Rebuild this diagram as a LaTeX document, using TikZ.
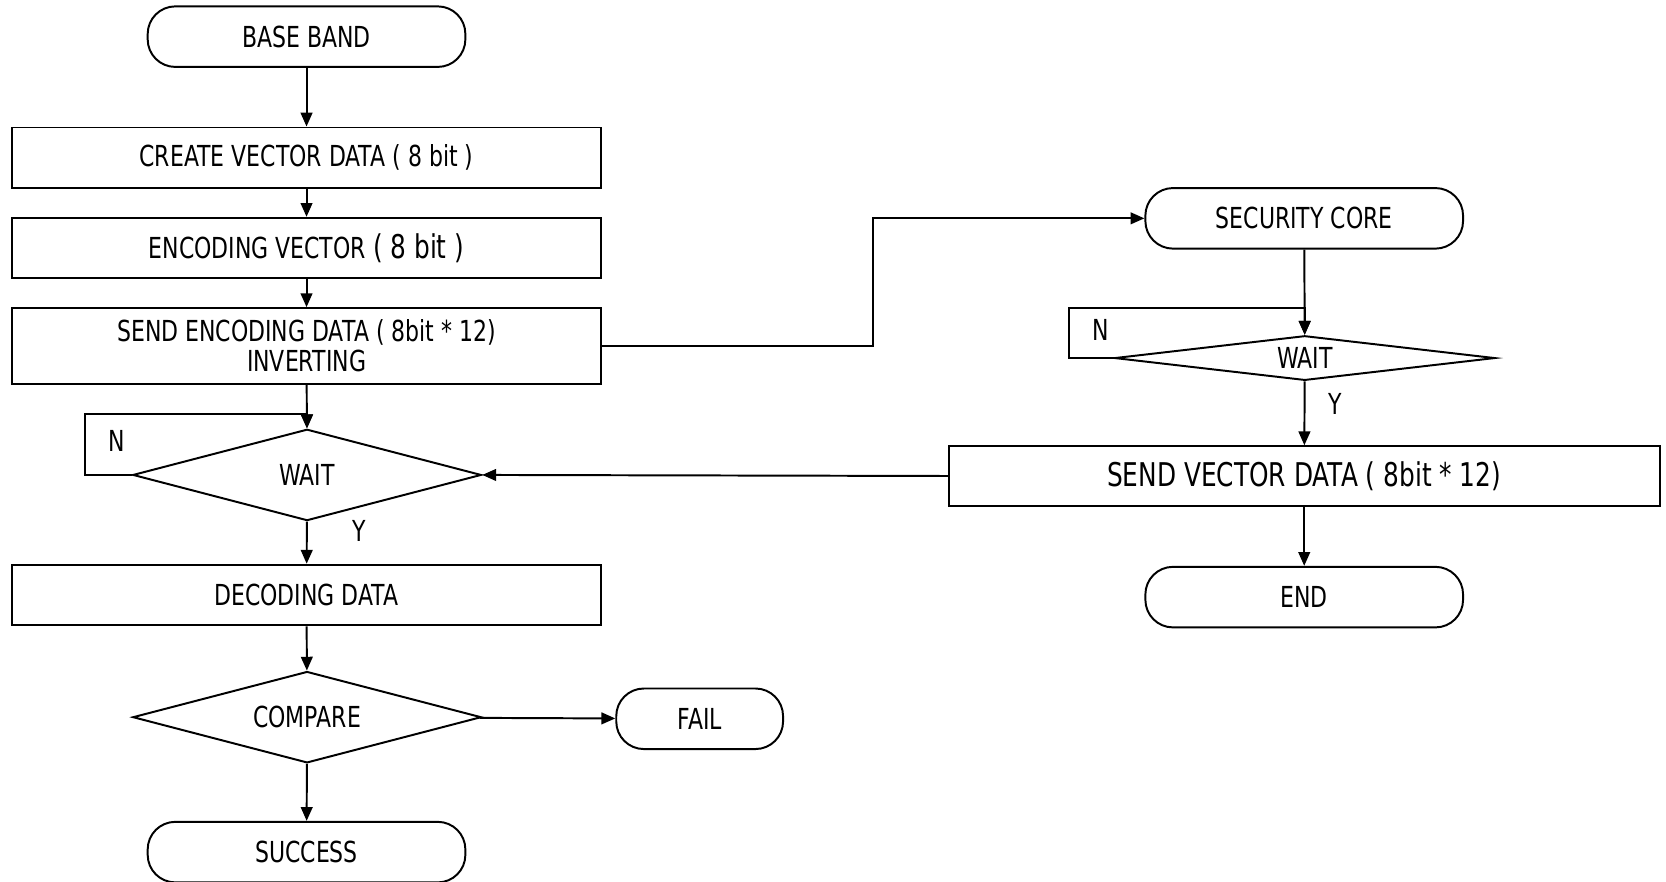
\documentclass[tikz,border=0pt]{standalone}
\usepackage{fontspec}
\setmainfont{DejaVu Sans}[FakeStretch=0.76]
\usetikzlibrary{shapes.geometric,arrows.meta}

\tikzset{
  box/.style={draw, rectangle, minimum width=111mm, minimum height=11.4mm, inner sep=0pt, align=center},
  term/.style={draw, rectangle, rounded corners=5.2mm, minimum width=59.8mm, minimum height=11.4mm, inner sep=0pt},
  dec/.style={draw, diamond, aspect=3.8, minimum width=65.6mm, minimum height=17.2mm, inner sep=0pt},
  arr/.style={-{Triangle[length=2.6mm,width=2.2mm]}},
  lbl/.style={inner sep=0pt},
}

\begin{document}
\begin{tikzpicture}[x=0.2mm, y=-0.2mm, line width=1.05pt, font=\fontsize{15.5}{16}\selectfont]
\useasboundingbox (0,0) rectangle (1568,830);
% left column
\node[term] (base) at (288.5,34.5){BASE BAND};
\node[box] (create) at (288.5,148.5){CREATE VECTOR DATA ( 8 bit )};
\node[box] (encode) at (288.5,233.5){ENCODING VECTOR {\fontsize{17.5}{18}\selectfont( 8 bit )}};
\node[box, minimum height=14.2mm] (sendenc) at (288.5,325.5){SEND ENCODING DATA ( 8bit * 12)\\INVERTING};
\node[dec] (wait1) at (289,447){WAIT};
\node[box] (decode) at (288.5,560){DECODING DATA};
\node[dec] (compare) at (289,675){COMPARE};
\node[term, minimum width=31.4mm] (fail) at (658.5,676.5){FAIL};
\node[term] (success) at (288.5,802){SUCCESS};
\node[lbl] (n1) at (110,415){N};
\node[lbl] (y1) at (338,500){Y};
\coordinate (loop1) at (80,390);
\draw[arr](base) -- (create);
\draw[arr](create) -- (encode);
\draw[arr](encode) -- (sendenc);
\draw[arr](sendenc) -- (wait1);
\draw[arr](wait1.west) -| (loop1) -- (loop1 -| wait1.north) -- (wait1.north);
\draw[arr](wait1) -- (decode);
\draw[arr](decode) -- (compare);
\draw[arr](compare) -- (fail);
\draw[arr](compare) -- (success);
% right column
\node[term] (core) at (1227.5,205.5){SECURITY CORE};
\node[dec, aspect=8.5, minimum width=71.6mm, minimum height=8.4mm] (wait2) at (1228,337){WAIT};
\node[box, minimum width=133.8mm, minimum height=11.2mm, font=\fontsize{17.5}{18}\selectfont] (sendvec) at (1227.5,448){SEND VECTOR DATA ( 8bit * 12)};
\node[term] (finish) at (1227.5,562){END};
\node[lbl] (n2) at (1036,311){N};
\node[lbl] (y2) at (1257,380){Y};
\coordinate (loop2) at (1006,290);
\draw[arr](core) -- (wait2);
\draw[arr](wait2.west) -| (loop2) -- (loop2 -| wait2.north) -- (wait2.north);
\draw[arr](wait2) -- (sendvec);
\draw[arr](sendvec) -- (finish);
% cross links
\draw[arr](sendenc.east) -- ++(255,0) |- (core.west);
\draw[arr](sendvec.west) -- (wait1.east);
\end{tikzpicture}
\end{document}
